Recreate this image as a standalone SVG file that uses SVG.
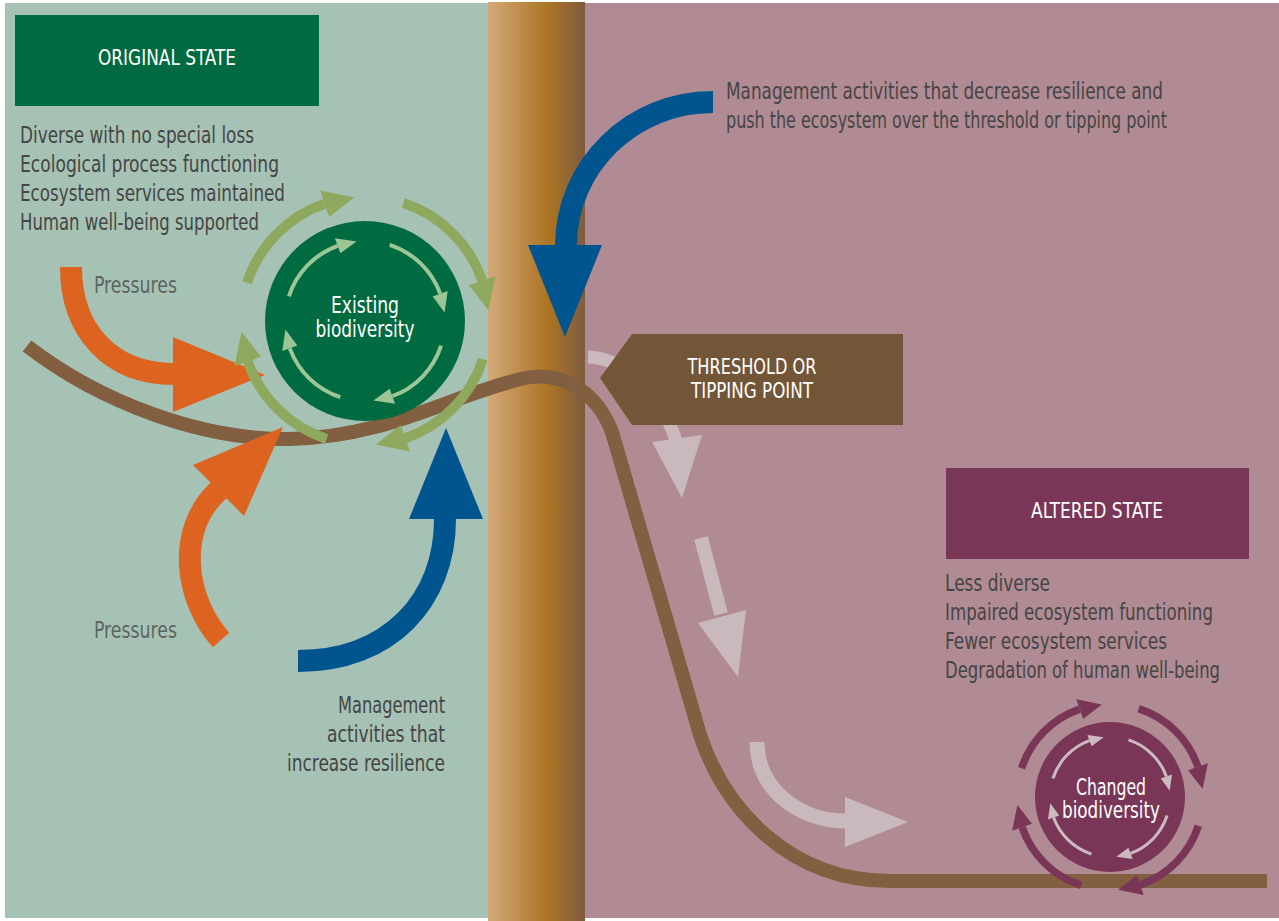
<svg xmlns="http://www.w3.org/2000/svg" xmlns:xlink="http://www.w3.org/1999/xlink" width="1279" height="921" viewBox="0 0 1279 921">
<style>
text{font-family:"Liberation Sans Narrow","DejaVu Sans Condensed","Liberation Sans",sans-serif;}
.body{font-size:22.5px;fill:#454545;}
.ttl{font-size:21px;fill:#ffffff;text-anchor:middle;}
.prs{font-size:22.5px;fill:#5d6561;}
.bio{font-size:23px;fill:#ffffff;text-anchor:middle;}
.end{text-anchor:end;}
.pale{fill:none;stroke:#c9b8bc;}
.paleF{fill:#c9b8bc;}
.orange{fill:none;stroke:#dc6420;stroke-width:22;}
.orangeF{fill:#dc6420;}
.blue{fill:none;stroke:#00558e;stroke-width:22;}
.blueF{fill:#00558e;}
</style>
<defs>
<linearGradient id="barGrad" x1="0" y1="0" x2="1" y2="0">
<stop offset="0" stop-color="#d3a978"/>
<stop offset="0.62" stop-color="#ad7423"/>
<stop offset="1" stop-color="#7e5c40"/>
</linearGradient>
<g id="arcO">
<path d="M -117.9 -38.3 A 124 124 0 0 1 -40.4 -117.2" fill="none" stroke="currentColor" stroke-width="10"/>
<polygon points="-35.8,-104 -44.9,-130.5 -10.8,-123.5" fill="currentColor"/>
</g>
<g id="arcI">
<path d="M -76.1 -24.7 A 80 80 0 0 1 -27.4 -75.2" fill="none" stroke="currentColor" stroke-width="4"/>
<polygon points="-24.6,-67.7 -30.1,-82.7 -8.4,-79.6" fill="currentColor"/>
</g>
</defs>

<g id="background">
<rect x="0" y="0" width="1279" height="921" fill="#ffffff"/>
<rect x="5" y="3" width="484" height="915" fill="#a6c2b4"/>
<rect x="584" y="3" width="695" height="915" fill="#b18b93"/>
<rect x="488" y="2" width="97" height="919" fill="url(#barGrad)"/>
</g>

<g id="connectors">
<path id="state-curve" d="M 27 346 C 100 402, 200 440, 290 439 C 390 437, 450 395, 525 378 C 565 370, 598 395, 612 432 L 700 735 C 725 810, 790 881, 890 881 L 1267 881" fill="none" stroke="#825f40" stroke-width="14"/>
<g id="pressure-upper">
<path class="orange" d="M 71 267 C 71 330, 110 374, 174 374"/>
<polygon class="orangeF" points="173,337 265,375 173,412"/>
</g>
<g id="pressure-lower">
<path class="orange" d="M 221 640 C 185 600, 175 530, 219 490"/>
<polygon class="orangeF" points="193,465 283,427 244,516"/>
</g>
<g id="mgmt-increase">
<path class="blue" d="M 298 661 C 390 661, 445 600, 445 519"/>
<polygon class="blueF" points="409,519 483,519 446,428"/>
</g>
<g id="mgmt-decrease">
<path class="blue" d="M 713 102 C 632 102, 566 166, 566 246"/>
<polygon class="blueF" points="528,245 602,245 565,337"/>
</g>
<g id="shift-arrows">
<path class="pale" stroke-width="13" d="M 588 357 C 625 358, 662 395, 676 441"/>
<polygon class="paleF" points="652,442 702,435 682,498"/>
<path class="pale" stroke-width="14" d="M 701 538 L 721 614"/>
<polygon class="paleF" points="698,623 746,610 738,677"/>
<path class="pale" stroke-width="15" d="M 757 742 C 757 790, 800 821, 846 821"/>
<polygon class="paleF" points="845,797 908,822 845,847"/>
</g>
</g>

<g id="original-state">
<rect x="15" y="15" width="304" height="91" fill="#006a41"/>
<text class="ttl" x="167" y="65" textLength="138" lengthAdjust="spacingAndGlyphs">ORIGINAL STATE</text>
<text class="body" x="20" y="143" textLength="234" lengthAdjust="spacingAndGlyphs">Diverse with no special loss</text>
<text class="body" x="20" y="172" textLength="259" lengthAdjust="spacingAndGlyphs">Ecological process functioning</text>
<text class="body" x="20" y="201" textLength="265" lengthAdjust="spacingAndGlyphs">Ecosystem services maintained</text>
<text class="body" x="20" y="230" textLength="239" lengthAdjust="spacingAndGlyphs">Human well-being supported</text>
</g>

<g id="existing-biodiversity" transform="translate(365,321)">
<circle cx="0" cy="0" r="100" fill="#006a41"/>
<g color="#8ea85d">
<use xlink:href="#arcO"/>
<use xlink:href="#arcO" transform="rotate(90)"/>
<use xlink:href="#arcO" transform="rotate(180)"/>
<use xlink:href="#arcO" transform="rotate(270)"/>
</g>
<g color="#9cc696">
<use xlink:href="#arcI"/>
<use xlink:href="#arcI" transform="rotate(90)"/>
<use xlink:href="#arcI" transform="rotate(180)"/>
<use xlink:href="#arcI" transform="rotate(270)"/>
</g>
<text class="bio" x="0" y="-8" textLength="68" lengthAdjust="spacingAndGlyphs">Existing</text>
<text class="bio" x="0" y="16" textLength="99" lengthAdjust="spacingAndGlyphs">biodiversity</text>
</g>

<g id="pressures-labels">
<text class="prs" x="94" y="293" textLength="83" lengthAdjust="spacingAndGlyphs">Pressures</text>
<text class="prs" x="94" y="638" textLength="83" lengthAdjust="spacingAndGlyphs">Pressures</text>
</g>

<g id="mgmt-increase-label">
<text class="body end" x="445" y="713" textLength="107" lengthAdjust="spacingAndGlyphs">Management</text>
<text class="body end" x="445" y="742" textLength="118" lengthAdjust="spacingAndGlyphs">activities that</text>
<text class="body end" x="445" y="771" textLength="158" lengthAdjust="spacingAndGlyphs">increase resilience</text>
</g>

<g id="mgmt-decrease-label">
<text class="body" x="726" y="99" textLength="437" lengthAdjust="spacingAndGlyphs">Management activities that decrease resilience and</text>
<text class="body" x="726" y="128" textLength="441" lengthAdjust="spacingAndGlyphs">push the ecosystem over the threshold or tipping point</text>
</g>

<g id="threshold">
<polygon points="600,378 632,334 903,334 903,425 632,425" fill="#735638"/>
<text class="ttl" x="752" y="374" textLength="129" lengthAdjust="spacingAndGlyphs">THRESHOLD OR</text>
<text class="ttl" x="752" y="398" textLength="122" lengthAdjust="spacingAndGlyphs">TIPPING POINT</text>
</g>

<g id="altered-state">
<rect x="946" y="468" width="303" height="91" fill="#7a3657"/>
<text class="ttl" x="1097" y="518" textLength="132" lengthAdjust="spacingAndGlyphs">ALTERED STATE</text>
<text class="body" x="945" y="591" textLength="105" lengthAdjust="spacingAndGlyphs">Less diverse</text>
<text class="body" x="945" y="620" textLength="268" lengthAdjust="spacingAndGlyphs">Impaired ecosystem functioning</text>
<text class="body" x="945" y="649" textLength="222" lengthAdjust="spacingAndGlyphs">Fewer ecosystem services</text>
<text class="body" x="945" y="678" textLength="275" lengthAdjust="spacingAndGlyphs">Degradation of human well-being</text>
</g>

<g id="changed-biodiversity">
<g transform="translate(1110,797) scale(0.75)">
<circle cx="0" cy="0" r="100" fill="#7a3657"/>
<g color="#7a3657">
<use xlink:href="#arcO"/>
<use xlink:href="#arcO" transform="rotate(90)"/>
<use xlink:href="#arcO" transform="rotate(180)"/>
<use xlink:href="#arcO" transform="rotate(270)"/>
</g>
<g color="#cbbbbf">
<use xlink:href="#arcI"/>
<use xlink:href="#arcI" transform="rotate(90)"/>
<use xlink:href="#arcI" transform="rotate(180)"/>
<use xlink:href="#arcI" transform="rotate(270)"/>
</g>
</g>
<text class="bio" x="1111" y="795" textLength="70" lengthAdjust="spacingAndGlyphs">Changed</text>
<text class="bio" x="1111" y="818" textLength="98" lengthAdjust="spacingAndGlyphs">biodiversity</text>
</g>
</svg>
